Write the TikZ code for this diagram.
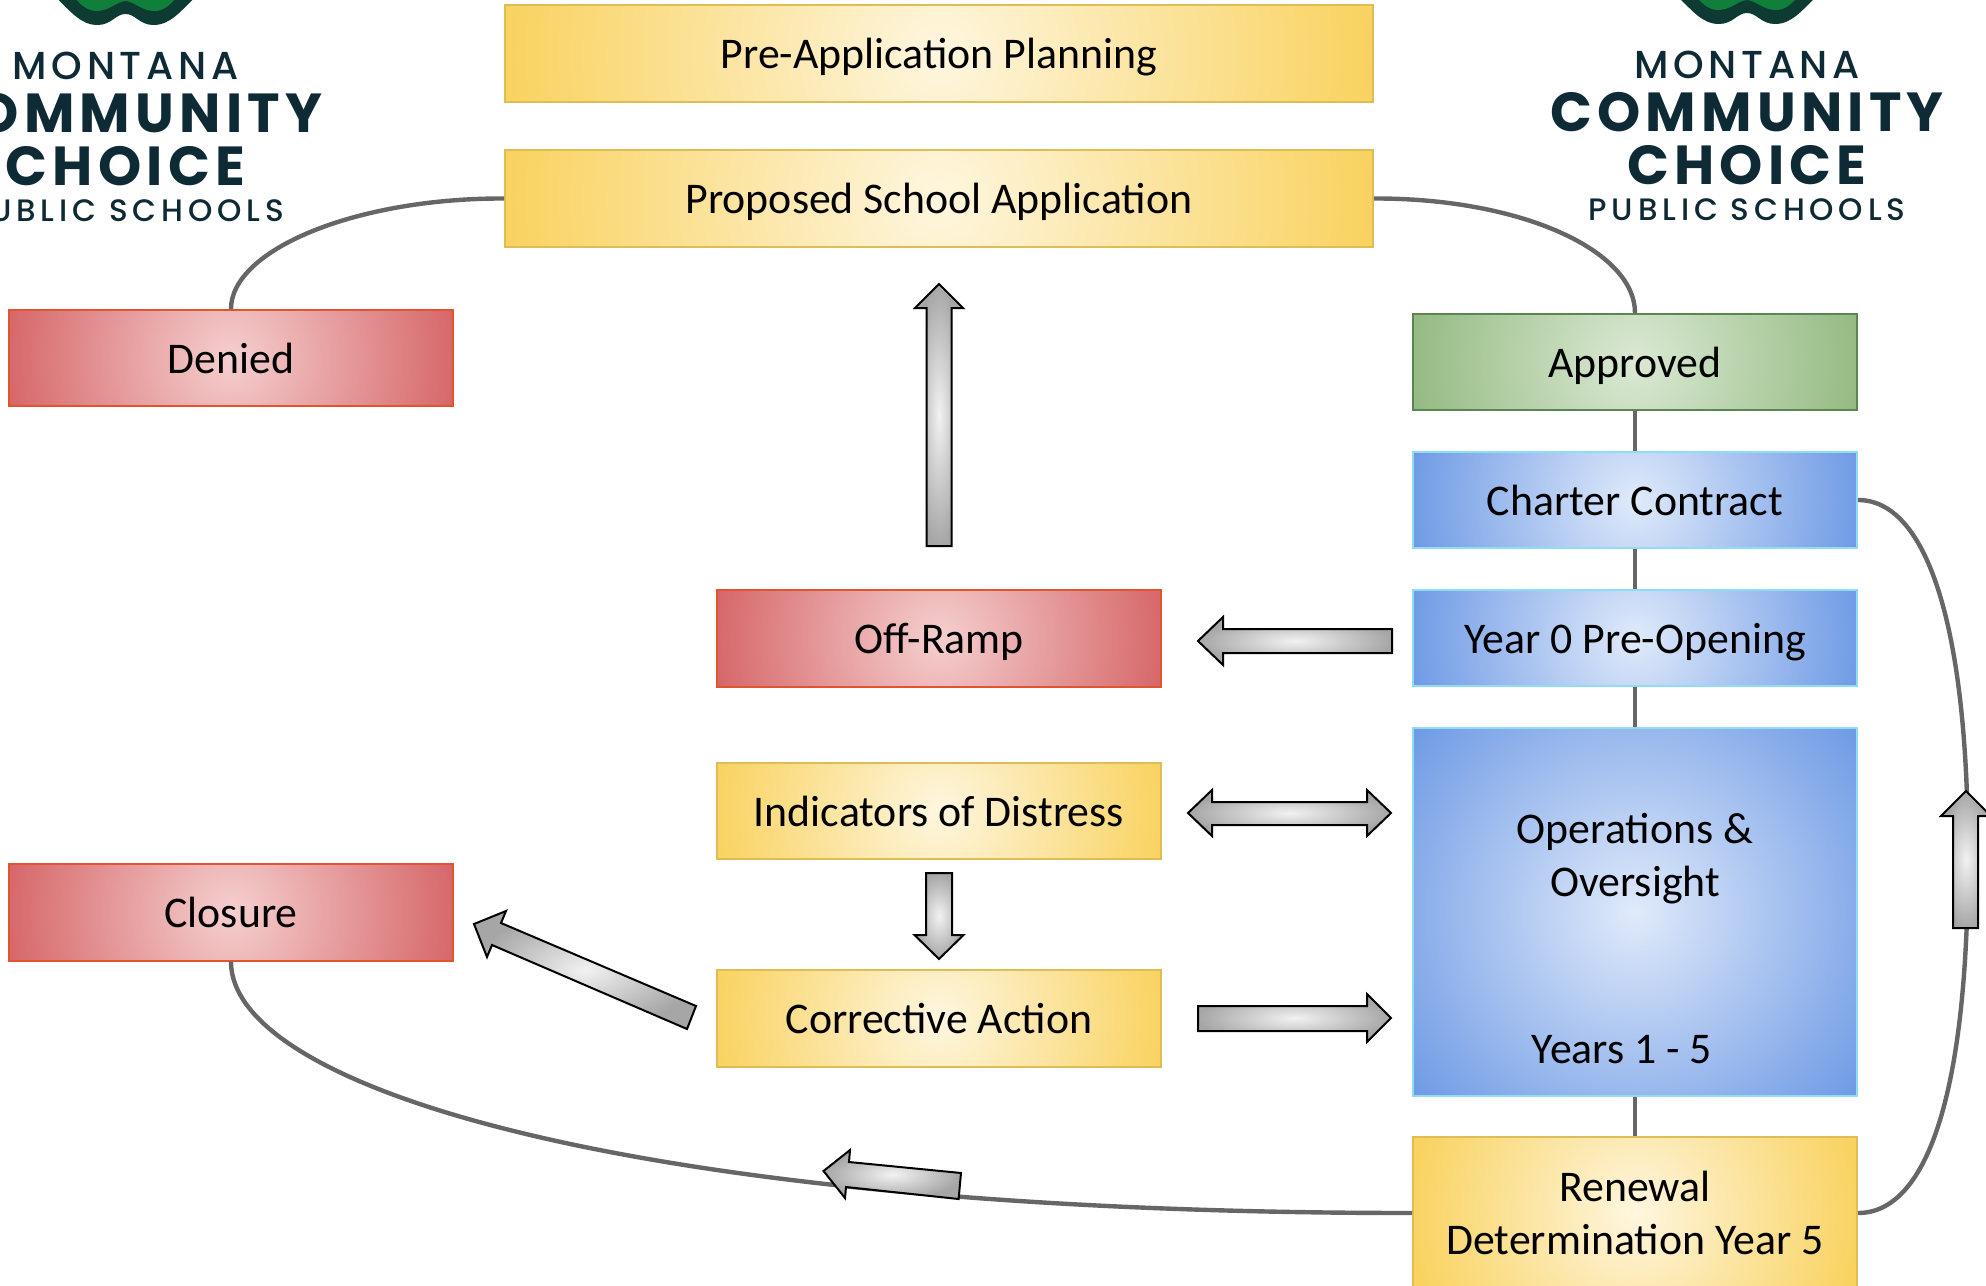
\documentclass[tikz,border=0pt]{standalone}
\usepackage{fontspec}
\setmainfont{Carlito}
\newfontfamily\logowide[LetterSpace=12]{Poppins Medium}
\newfontfamily\logopub[LetterSpace=15.5]{Poppins Medium}
\newfontfamily\logobold[LetterSpace=9.5]{Poppins}
\usetikzlibrary{calc}
\definecolor{yelO}{HTML}{F9D25F}\definecolor{yelI}{HTML}{FEF6DF}\definecolor{yelB}{HTML}{DFBD55}
\definecolor{redO}{HTML}{D66668}\definecolor{redI}{HTML}{F5CFCF}\definecolor{redB}{HTML}{E0552F}
\definecolor{grnO}{HTML}{93BA81}\definecolor{grnI}{HTML}{DBE9D4}\definecolor{grnB}{HTML}{5B8551}
\definecolor{bluO}{HTML}{6E9AE5}\definecolor{bluI}{HTML}{E0EAFA}\definecolor{bluB}{HTML}{8FDCF5}
\definecolor{conn}{HTML}{666666}\definecolor{logoT}{HTML}{0E2A35}
\definecolor{logoG}{HTML}{0F7F3A}\definecolor{logoD}{HTML}{0D3B33}
\definecolor{arrO}{HTML}{A6A6A6}\definecolor{arrI}{HTML}{F2F2F2}
\tikzset{
  x=0.5pt,y=-0.5pt,
  box/.style n args={6}{draw=#3,line width=1pt,fill=#2,inner sep=0pt,minimum width=#4*0.5pt,minimum height=#5*0.5pt,align=center,
    font=\fontsize{21.9}{26}\selectfont,text height=19pt,text depth=4pt,
    path picture={\shade[inner color=#1,outer color=#2] (path picture bounding box.center) circle (#6*0.5pt);}},
  yelbox/.style 2 args={box={yelI}{yelO}{yelB}{#1}{#2}{228}},
  yelwide/.style 2 args={box={yelI}{yelO}{yelB}{#1}{#2}{436}},
  redbox/.style 2 args={box={redI}{redO}{redB}{#1}{#2}{228}},
  grnbox/.style 2 args={box={grnI}{grnO}{grnB}{#1}{#2}{228}},
  blubox/.style 2 args={box={bluI}{bluO}{bluB}{#1}{#2}{228}},
  bluebig/.style 2 args={box={bluI}{bluO}{bluB}{#1}{#2}{288}},
  freetext/.style={font=\fontsize{21.9}{26}\selectfont,anchor=base,inner sep=0pt},
  link/.style={draw=conn,line width=2.2pt},
  blockarrow/.style={draw=black,line width=1pt,line join=miter,inner color=arrI,outer color=arrO},
  logotext/.style={text=logoT,inner sep=0pt,anchor=base},
}
\newcommand{\logoat}[3]{%
  \begin{scope}[shift={(#1,#2)}]
    \fill[logoD] (-68,-2) .. controls (-55,10) and (-45,24) .. (-28,24) .. controls (-14,24) and (-10,13) .. (0,13) .. controls (10,13) and (14,24) .. (28,24) .. controls (45,24) and (55,10) .. (68,-2) -- cycle;
    \fill[logoG] (-50,-2) .. controls (-44,4) and (-38,10) .. (-29,10) .. controls (-16,10) and (-10,1) .. (0,0) .. controls (10,1) and (16,10) .. (29,10) .. controls (38,10) and (44,4) .. (50,-2) -- cycle;
    \node[logotext,font=\logowide\fontsize{19.5}{20}\selectfont] (montana#3) at (0,78.5) {MONTANA};
    \node[logotext,font=\logobold\bfseries\fontsize{27.5}{27}\selectfont] (community#3) at (0,131) {COMMUNITY};
    \node[logotext,font=\logobold\bfseries\fontsize{27.5}{27}\selectfont] (choice#3) at (0,184) {CHOICE};
    \node[logotext,font=\logopub\fontsize{15.5}{16}\selectfont] (public#3) at (0,220) {PUBLIC SCHOOLS};
  \end{scope}}
\begin{document}
\begin{tikzpicture}
\clip (0,0) rectangle (1986,1285);
\useasboundingbox (0,0) rectangle (1986,1285);
\logoat{125.5}{1}{L}
\logoat{1747}{0}{R}
\node[yelwide={868}{97}] (preapp) at (939,53.5) {Pre-Application Planning};
\node[yelwide={868}{97}] (proposed) at (939,198.5) {Proposed School Application};
\node[redbox={444}{96}] (denied) at (231,358) {Denied};
\node[grnbox={444}{96}] (approved) at (1635,362) {Approved};
\node[blubox={444}{96}] (charter) at (1635,500) {Charter Contract};
\node[blubox={444}{96}] (year) at (1635,638) {Year 0 Pre-Opening};
\node[bluebig={444}{368}] (ops) at (1635,912) {};
\node[freetext] (opstext) at (1635,843) {Operations \&};
\node[freetext] (opstext2) at (1635,896) {Oversight};
\node[freetext] (years) at (1622,1063) {Years 1 - 5};
\node[yelbox={444}{152},text height=,text depth=] (renewal) at (1635,1213) {Renewal\\[0.5pt]Determination Year 5};
\node[redbox={444}{97}] (offramp) at (939,638) {Off-Ramp};
\node[yelbox={444}{96}] (indicators) at (939,811) {Indicators of Distress};
\node[yelbox={444}{97}] (corrective) at (939,1018.5) {Corrective Action};
\node[redbox={444}{97}] (closure) at (231,912) {Closure};
\draw[link] (proposed.west) .. controls (355,198) and (231,250) .. (denied.north);
\draw[link] (proposed.east) .. controls (1520,198) and (1635,250) .. (approved.north);
\draw[link] (approved) -- (charter);
\draw[link] (charter) -- (year);
\draw[link] (year) -- (ops);
\draw[link] (ops) -- (renewal);
\draw[link] (charter.east) .. controls (1925,500) and (1968,620) .. (1968,856) .. controls (1968,1100) and (1925,1213) .. (renewal.east);
\draw[link] (closure.south) .. controls (231,1090) and (640,1213) .. (renewal.west);
% block arrows
\shade[blockarrow] (939,284) -- (963,308) -- (951.5,308) -- (951.5,546) -- (926.5,546) -- (926.5,308) -- (915,308) -- cycle;
\shade[blockarrow] (1198,641) -- (1223,617) -- (1223,629) -- (1392,629) -- (1392,653) -- (1223,653) -- (1223,665) -- cycle;
\shade[blockarrow] (1188,813) -- (1212,790) -- (1212,802) -- (1367,802) -- (1367,790) -- (1391,813) -- (1367,836) -- (1367,825) -- (1212,825) -- (1212,836) -- cycle;
\shade[blockarrow] (926,873) -- (952,873) -- (952,935) -- (963.5,935) -- (939,959) -- (914.5,935) -- (926,935) -- cycle;
\shade[blockarrow] (1391,1018) -- (1367,994) -- (1367,1006) -- (1198,1006) -- (1198,1031) -- (1367,1031) -- (1367,1042) -- cycle;
\shade[blockarrow] (474,924) -- (506,911) -- (501,923) -- (696,1006) -- (687,1029) -- (492,945) -- (487,957) -- cycle;
\shade[blockarrow] (823.5,1171) -- (850,1150) -- (849,1162) -- (961,1173) -- (958.6,1199) -- (846,1187) -- (845,1198) -- cycle;
\shade[blockarrow] (1966,791) -- (1991,816) -- (1978,816) -- (1978,928) -- (1953,928) -- (1953,816) -- (1941,816) -- cycle;
\end{tikzpicture}
\end{document}
